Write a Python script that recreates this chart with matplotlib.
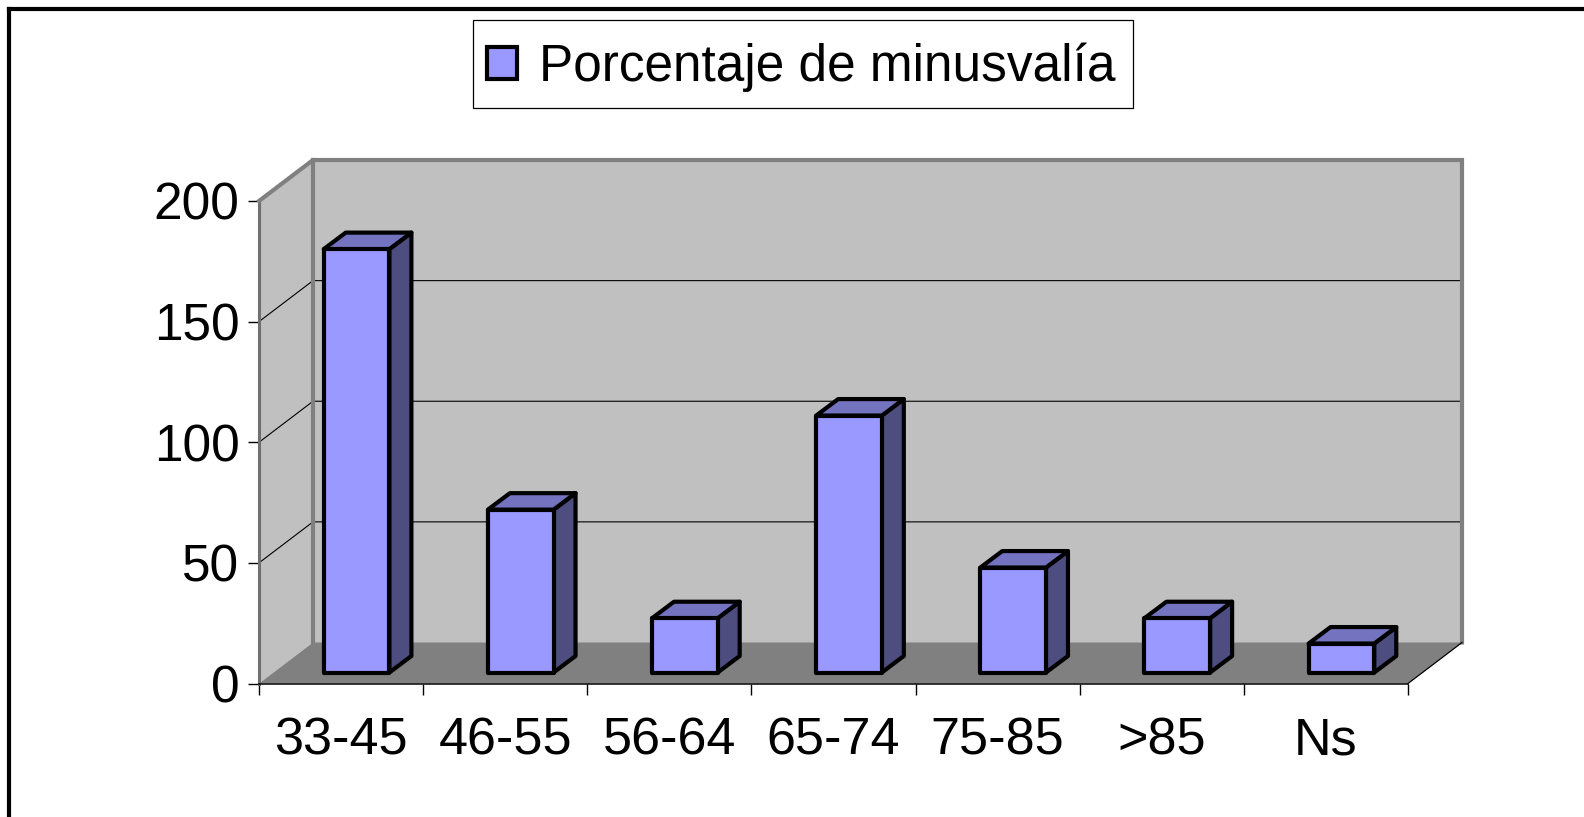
import matplotlib
matplotlib.use("Agg")
from matplotlib import pyplot as plt
from matplotlib.patches import Patch, Polygon, Rectangle
from matplotlib.lines import Line2D

categories = ["33-45", "46-55", "56-64", "65-74", "75-85", ">85", "Ns"]
values = [175.5, 67.5, 22.5, 106.5, 43.5, 22.5, 12]
y_ticks = [0, 50, 100, 150, 200]
series_name = "Porcentaje de minusvalía"

W, H = 1584, 817
plt.rcParams['font.family'] = ['Liberation Sans', 'DejaVu Sans']

fig = plt.figure(figsize=(W / 100, H / 100), dpi=100)

# front plane of the fake 3D box, in pixels of the reference
left, right, floor, top = 259, 1408, 683.5, 201
ax = fig.add_axes([left / W, 1 - floor / H, (right - left) / W, (floor - top) / H])
ax.set_xlim(0, len(categories))
ax.set_ylim(0, y_ticks[-1])
ax.patch.set_visible(False)
for s in ax.spines.values():
    s.set_visible(False)

px_x = len(categories) / (right - left)
px_y = y_ticks[-1] / (floor - top)
n = len(categories)
ymax = y_ticks[-1]

# depth of the box and of the bars
wall_dx, wall_dy = 54 * px_x, 41 * px_y
bar_dx, bar_dy = 22 * px_x, 16.5 * px_y
bar_off_x, bar_off_y = 15.5 * px_x, 11 * px_y
bar_w = 0.4

WALL = "#C0C0C0"
FLOOR = "#808080"
FRONT = "#9999FF"
SIDE = "#4D4D80"
TOP = "#7373BF"


def poly(pts, fc, z, ec="none", lw=0):
    ax.add_patch(Polygon(pts, closed=True, facecolor=fc, edgecolor=ec, linewidth=lw,
                         joinstyle="round", clip_on=False, zorder=z))


# back wall, side wall, floor
poly([(wall_dx, wall_dy), (n + wall_dx, wall_dy), (n + wall_dx, ymax + wall_dy), (wall_dx, ymax + wall_dy)], WALL, 1)
poly([(0, 0), (wall_dx, wall_dy), (wall_dx, ymax + wall_dy), (0, ymax)], WALL, 1)
poly([(0, 0), (n, 0), (n + wall_dx, wall_dy), (wall_dx, wall_dy)], FLOOR, 2)

# grid lines on both walls
for t in y_ticks[1:-1]:
    ax.plot([0, wall_dx, n + wall_dx], [t, t + wall_dy, t + wall_dy], color="#000000", lw=0.8,
            clip_on=False, zorder=2, solid_joinstyle="miter")

# thick gray edges of the walls
ax.plot([0, 0], [0, ymax], color="#707070", lw=2.2, clip_on=False, zorder=3)
ax.plot([0, wall_dx, n + wall_dx, n + wall_dx], [ymax, ymax + wall_dy, ymax + wall_dy, wall_dy],
        color=FLOOR, lw=3, clip_on=False, zorder=3, solid_joinstyle="miter")
ax.plot([wall_dx, wall_dx], [wall_dy, ymax + wall_dy], color=FLOOR, lw=3, clip_on=False, zorder=3)

# bars
for i, v in enumerate(values):
    x0 = i + 0.5 - bar_w / 2 + bar_off_x
    x1 = x0 + bar_w
    y0 = bar_off_y
    y1 = y0 + v
    poly([(x1, y0), (x1 + bar_dx, y0 + bar_dy), (x1 + bar_dx, y1 + bar_dy), (x1, y1)], SIDE, 5, "black", 3)
    poly([(x0, y1), (x1, y1), (x1 + bar_dx, y1 + bar_dy), (x0 + bar_dx, y1 + bar_dy)], TOP, 5, "black", 3)
    poly([(x0, y0), (x1, y0), (x1, y1), (x0, y1)], FRONT, 6, "black", 3)

# axis line along the front of the floor
ax.plot([0, n], [0, 0], color="black", lw=1.1, clip_on=False, zorder=4)
ax.plot([n, n + wall_dx], [0, wall_dy], color="black", lw=0.9, clip_on=False, zorder=4)

ax.set_yticks(y_ticks)
ax.set_yticklabels([str(t) for t in y_ticks], fontsize=37)
ax.set_xticks(range(n + 1))
ax.set_xticklabels([])
ax.tick_params(axis="y", length=8, width=1, pad=6, color="black")
ax.tick_params(axis="x", length=8, width=1, color="black")
for i, c in enumerate(categories):
    ax.annotate(c, (i + 0.5, 0), xytext=(0, -41.5), textcoords="offset points", ha="center", va="center",
                fontsize=37.5, annotation_clip=False)

# legend, box drawn apart so its padding can differ from the legend's own
fig.add_artist(Rectangle((473 / W, 1 - 108 / H), 660 / W, 88 / H, transform=fig.transFigure,
                         facecolor="white", edgecolor="black", linewidth=0.9))
handle = Patch(facecolor=FRONT, edgecolor="black", linewidth=3)
leg = fig.legend([handle], [series_name], loc="center", bbox_to_anchor=(801 / W, 1 - 67 / H),
                 fontsize=37, frameon=False,
                 handlelength=0.6, handleheight=0.58, handletextpad=0.42, borderpad=0.3, borderaxespad=0)

# outer frame, only top and left show in the picture
fig.add_artist(Line2D([9 / W, 9 / W], [0, 1 - 9 / H], color="black", lw=3, solid_capstyle="projecting"))
fig.add_artist(Line2D([9 / W, 1], [1 - 9 / H, 1 - 9 / H], color="black", lw=3, solid_capstyle="projecting"))

fig.savefig("out.png", dpi=100)
